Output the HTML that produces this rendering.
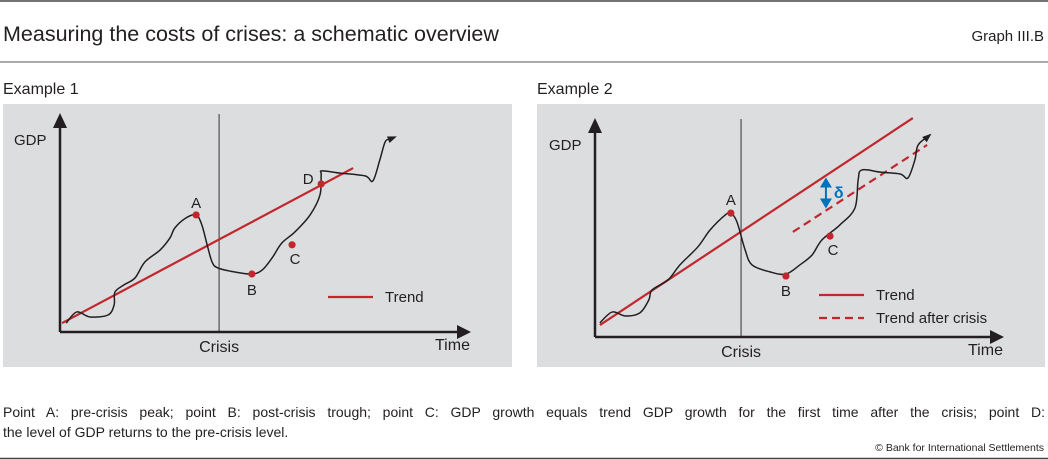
<!DOCTYPE html>
<html><head><meta charset="utf-8"><style>
body{margin:0;background:#fff;width:1048px;height:460px;overflow:hidden;font-family:"Liberation Sans",sans-serif;position:relative}
svg{display:block}
text{font-family:"Liberation Sans",sans-serif;fill:#231f20}
#fn{position:absolute;left:3px;top:402px;width:1042px;font-size:14px;line-height:20px;color:#231f20;text-align:justify;text-align-last:left}
#fn1{text-align:justify;text-align-last:justify;white-space:nowrap;display:block}
</style></head><body>
<svg id="c" width="1048" height="460">
<line x1="0" y1="1" x2="1048" y2="1" stroke="#444" stroke-width="1.5"/>
<text x="3" y="41" font-size="21.5">Measuring the costs of crises: a schematic overview</text>
<text x="1044" y="41" font-size="15" text-anchor="end">Graph III.B</text>
<line x1="0" y1="62" x2="1048" y2="62" stroke="#555" stroke-width="1"/>
<text x="3" y="94" font-size="16">Example 1</text>
<text x="537" y="94" font-size="16">Example 2</text>
<rect x="3" y="104" width="509" height="263" fill="#dcdddf"/>
<rect x="537" y="104" width="508" height="263" fill="#dcdddf"/>
<text x="1044" y="451" font-size="10.5" text-anchor="end">© Bank for International Settlements</text>
<line x1="0" y1="458.5" x2="1048" y2="458.5" stroke="#444" stroke-width="1.5"/>
<g id="p1"></g><g id="p2"></g>
</svg>
<div id="fn"><span id="fn1">Point A: pre-crisis peak; point B: post-crisis trough; point C: GDP growth equals trend GDP growth for the first time after the crisis; point D:</span><span>the level of GDP returns to the pre-crisis level.</span></div>
<script>
// Panel 1 data (time units 0-100, GDP units 0-100)
const gdp1T=[1.5,4.1,7.3,11.7,13.2,13.4,15.6,18.3,20.7,24.4,26.8,28,30.7,33.2,34.6,35.9,37.1,38.5,42.7,46.8,49.3,51.7,54.1,57.3,61,63.4,63.7,63.9,68.3,74.4,76.3,78,79.3,80.5,81.7];
const gdp1V=[4.1,9.2,6.9,7.8,12.4,18.3,21.6,24.8,32.1,37.6,43.1,47.7,52.3,53.7,49.1,39.9,32.1,29.4,27.5,26.6,28.4,33.9,40.8,45.9,53.7,62.8,72,73.9,72.9,71.6,69.3,78.9,87.2,88.5,89.4];
const trend1T=[0.5,71.5], trend1V=[4.1,75.2];
const pts1Label=["A","B","C","D"], pts1T=[33.2,46.8,56.6,63.7], pts1V=[53.7,26.6,40,67.9];
const crisis1T=38.8;
// Panel 2 data
const gdp2T=[1.2,4.2,7.4,11,13.2,14,17.9,20.8,25.2,28.2,31.9,33.3,34.8,36.8,38.5,42.9,46.8,50.2,53.2,55.6,60,63.7,64.5,65.4,69.9,74.8,76.7,78.4,79.2,82.1];
const gdp2V=[6.5,11.5,9.7,11.1,17.1,21.7,26.3,33.2,41.5,49.3,56.2,57.1,53,40.1,33.2,30,29,33.2,37.8,44.7,51.6,59.4,72.4,77,76,75.1,73.3,81.6,88.5,93.1];
const trend2T=[1.2,77.9], trend2V=[5.5,100.9];
const after2T=[48.5,81.4], after2V=[48.4,88.5];
const pts2Label=["A","B","C"], pts2T=[33.3,46.8,57.6], pts2V=[57.1,28.1,46.5];
const crisis2T=35.8, delta2T=56.6;

const NS="http://www.w3.org/2000/svg";
function mk(parent,tag,attrs,name){const e=document.createElementNS(NS,tag);for(const k in attrs)e.setAttribute(k,attrs[k]);


parent.appendChild(e);return e;}
function smooth(P){let d=`M${P[0][0]},${P[0][1]}`;for(let i=0;i<P.length-1;i++){const p0=P[i-1]||P[i],p1=P[i],p2=P[i+1],p3=P[i+2]||p2;
d+=` C${p1[0]+(p2[0]-p0[0])/6},${p1[1]+(p2[1]-p0[1])/6} ${p2[0]-(p3[0]-p1[0])/6},${p2[1]-(p3[1]-p1[1])/6} ${p2[0]},${p2[1]}`;}return d;}
function lin(T,V){const a=(V[1]-V[0])/(T[1]-T[0]);return t=>V[0]+(t-T[0])*a;}
function panel(g,o){
  const X=t=>o.x0+t*o.sx, Y=v=>o.y0-v*o.sy;
  mk(g,'line',{x1:X(o.crisis),y1:o.top,x2:X(o.crisis),y2:o.y0,stroke:'#333','stroke-width':1},'crisis-line');
  mk(g,'line',{x1:o.x0,y1:o.y0,x2:o.x0,y2:o.top+12,stroke:'#231f20','stroke-width':2.5},'y-axis');
  mk(g,'path',{d:`M${o.x0-7},${o.top+14} L${o.x0},${o.top-1} L${o.x0+7},${o.top+14} Z`,fill:'#231f20'},'y-axis-arrow');
  mk(g,'line',{x1:o.x0,y1:o.y0,x2:o.xEnd-12,y2:o.y0,stroke:'#231f20','stroke-width':2.5},'x-axis');
  mk(g,'path',{d:`M${o.xEnd-14},${o.y0-7} L${o.xEnd},${o.y0} L${o.xEnd-14},${o.y0+7} Z`,fill:'#231f20'},'x-axis-arrow');
  mk(g,'text',{x:o.x0-46,y:o.top+31,'font-size':15},'y-axis-title').textContent='GDP';
  mk(g,'text',{x:X(o.crisis),y:o.y0+20,'font-size':16,'text-anchor':'middle'},'crisis-label').textContent='Crisis';
  mk(g,'text',{x:o.xEnd-36,y:o.y0+18,'font-size':16},'x-axis-title').textContent='Time';
  mk(g,'line',{x1:X(o.trT[0]),y1:Y(o.trV[0]),x2:X(o.trT[1]),y2:Y(o.trV[1]),stroke:'#c1272d','stroke-width':2.2},'trend-line');
  if(o.afT) mk(g,'line',{x1:X(o.afT[0]),y1:Y(o.afV[0]),x2:X(o.afT[1]),y2:Y(o.afV[1]),stroke:'#c1272d','stroke-width':2.2,'stroke-dasharray':'8,5'},'trend-after-crisis-line');
  const P=o.gT.map((t,i)=>[X(t),Y(o.gV[i])]);
  mk(g,'path',{d:smooth(P),fill:'none',stroke:'#231f20','stroke-width':1.5},'gdp-line');
  const L=P[P.length-1],Lp=P[P.length-2];const ang=Math.atan2(L[1]-Lp[1],L[0]-Lp[0]);
  const ah=(a,r)=>[L[0]-r*Math.cos(ang+a),L[1]-r*Math.sin(ang+a)];
  const a1=ah(0.45,8),a2=ah(-0.45,8);
  mk(g,'path',{d:`M${a1} L${L[0]+2*Math.cos(ang)},${L[1]+2*Math.sin(ang)} L${a2} Z`,fill:'#231f20'},'gdp-line-arrow');
  o.pL.forEach((lb,i)=>{
    mk(g,'circle',{cx:X(o.pT[i]),cy:Y(o.pV[i]),r:3.6,fill:'#c1272d'},'point-'+lb.toLowerCase());
    const off=o.lOff[i];
    mk(g,'text',{x:X(o.pT[i])+off[0],y:Y(o.pV[i])+off[1],'font-size':15,'text-anchor':'middle'},'point-label-'+lb.toLowerCase()).textContent=lb;
  });
  o.leg.forEach((l,i)=>{
    mk(g,'line',{x1:l.x,y1:l.y,x2:l.x+45,y2:l.y,stroke:'#c1272d','stroke-width':2.2,'stroke-dasharray':l.dash||'none'},'legend-line-'+i);
    mk(g,'text',{x:l.x+57,y:l.y+5,'font-size':15},'legend-label-'+i).textContent=l.t;
  });
  return {X,Y};
}
panel(document.getElementById('p1'),{x0:60,y0:332,sx:4.1,sy:2.18,top:114,xEnd:471,crisis:crisis1T,
  trT:trend1T,trV:trend1V,gT:gdp1T,gV:gdp1V,pL:pts1Label,pT:pts1T,pV:pts1V,
  lOff:[[0,-7],[0,21],[3,19],[-13,0]],leg:[{x:328,y:297,t:'Trend'}]});
const s2=panel(document.getElementById('p2'),{x0:595,y0:337,sx:4.08,sy:2.17,top:119,xEnd:1004,crisis:crisis2T,
  trT:trend2T,trV:trend2V,afT:after2T,afV:after2V,gT:gdp2T,gV:gdp2V,pL:pts2Label,pT:pts2T,pV:pts2V,
  lOff:[[0,-8],[0,20],[3,19]],leg:[{x:819,y:295,t:'Trend'},{x:819,y:318,t:'Trend after crisis',dash:'8,5'}]});
// delta arrow
const g2=document.getElementById('p2');
const dx=s2.X(delta2T), dyTop=s2.Y(lin(trend2T,trend2V)(delta2T))+2, dyBot=s2.Y(lin(after2T,after2V)(delta2T))-2;
mk(g2,'line',{x1:dx,y1:dyTop+8,x2:dx,y2:dyBot-8,stroke:'#0072bc','stroke-width':2},'delta-arrow-shaft');
mk(g2,'path',{d:`M${dx-6},${dyTop+10} L${dx},${dyTop} L${dx+6},${dyTop+10} Z`,fill:'#0072bc'},'delta-arrow-head-up');
mk(g2,'path',{d:`M${dx-6},${dyBot-10} L${dx},${dyBot} L${dx+6},${dyBot-10} Z`,fill:'#0072bc'},'delta-arrow-head-down');
const dt=mk(g2,'text',{x:dx+8,y:(dyTop+dyBot)/2+5,'font-size':16,'font-weight':'bold',style:'fill:#0072bc'},'delta-label');dt.textContent='δ';
</script>
</body></html>
